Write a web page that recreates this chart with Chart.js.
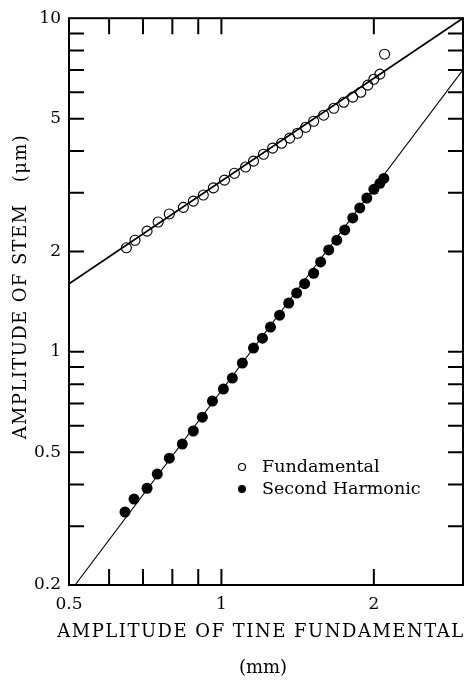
<!DOCTYPE html>
<html lang="en">
<head>
  <meta charset="UTF-8" />
  <title>Stem amplitude vs tine amplitude</title>
  <script src="https://cdn.jsdelivr.net/npm/chart.js"></script>
  <style>
    html, body { margin: 0; padding: 0; background: #fff; }
    canvas { display: block; }
  </style>
</head>
<body>
  <canvas id="stemChart" width="473" height="680"></canvas>

  <script>
    // tick labels and tick marks
    const xTickLabels = [0.5, 1, 2];
    const yTickLabels = [0.2, 0.5, 1, 2, 5, 10];
    const xTickMarks = [0.6, 0.7, 0.8, 0.9, 1, 2];
    const yTickMarks = [0.3, 0.4, 0.5, 0.6, 0.7, 0.8, 0.9, 1, 2, 3, 4, 5, 6, 7, 8, 9];

    // open circles (mm, um)
    const fundamentalX = [0.649, 0.675, 0.713, 0.750, 0.789, 0.841, 0.880, 0.921, 0.964, 1.014,
      1.061, 1.116, 1.157, 1.211, 1.262, 1.315, 1.364, 1.414, 1.467, 1.521,
      1.592, 1.667, 1.744, 1.817, 1.885, 1.946, 2.000, 2.056, 2.100];
    const fundamentalY = [2.05, 2.16, 2.30, 2.45, 2.59, 2.71, 2.83, 2.95, 3.10, 3.27,
      3.43, 3.58, 3.73, 3.91, 4.08, 4.22, 4.37, 4.52, 4.71, 4.91,
      5.12, 5.37, 5.60, 5.80, 6.00, 6.30, 6.56, 6.80, 7.80];

    // filled circles
    const harmonicX = [0.645, 0.672, 0.713, 0.747, 0.789, 0.837, 0.880, 0.917, 0.960, 1.009,
      1.051, 1.100, 1.157, 1.205, 1.250, 1.303, 1.358, 1.408, 1.460, 1.521,
      1.570, 1.629, 1.690, 1.752, 1.817, 1.876, 1.937, 2.000, 2.056, 2.093];
    const harmonicY = [0.331, 0.362, 0.390, 0.430, 0.480, 0.529, 0.579, 0.637, 0.712, 0.773,
      0.834, 0.925, 1.026, 1.099, 1.186, 1.288, 1.40, 1.50, 1.60, 1.72,
      1.86, 2.02, 2.16, 2.32, 2.52, 2.70, 2.89, 3.07, 3.20, 3.31];

    // fitted lines
    const fundamentalFitX = [0.5, 3];
    const fundamentalFitY = [1.6, 10];
    const harmonicFitX = [0.514, 3];
    const harmonicFitY = [0.2, 7.0];

    const legendLabels = ["Fundamental", "Second Harmonic"];
    const xTitle = ["AMPLITUDE OF TINE FUNDAMENTAL", "(mm)"];
    const yTitle = "AMPLITUDE OF STEM   (\u03bcm)";

    const SERIF = "'DejaVu Serif', 'Liberation Serif', serif";
    const toPoints = (xs, ys) => xs.map((x, i) => ({ x, y: ys[i] }));

    // frame, inward ticks, axis titles and legend
    const framePlugin = {
      id: "frame",
      afterDraw(chart) {
        const { ctx, chartArea: a, scales } = chart;
        ctx.save();
        ctx.strokeStyle = "#000";
        ctx.lineWidth = 2;
        ctx.strokeRect(a.left, a.top, a.right - a.left, a.bottom - a.top);

        ctx.beginPath();
        xTickMarks.forEach(v => {
          const px = scales.x.getPixelForValue(v);
          ctx.moveTo(px, a.bottom); ctx.lineTo(px, a.bottom - 16);
          ctx.moveTo(px, a.top); ctx.lineTo(px, a.top + 16);
        });
        yTickMarks.forEach(v => {
          const py = scales.y.getPixelForValue(v);
          ctx.moveTo(a.left, py); ctx.lineTo(a.left + 15, py);
          ctx.moveTo(a.right, py); ctx.lineTo(a.right - 15, py);
        });
        ctx.stroke();

        // axis titles
        ctx.fillStyle = "#000";
        ctx.font = "18px " + SERIF;
        ctx.letterSpacing = "1.5px";
        ctx.textAlign = "center";
        ctx.textBaseline = "middle";
        const cx = (a.left + a.right) / 2 - 5;
        ctx.fillText(xTitle[0], cx, a.bottom + 47);
        ctx.letterSpacing = "0px";
        ctx.fillText(xTitle[1], cx + 2, a.bottom + 83);

        ctx.save();
        ctx.translate(21, (a.top + a.bottom) / 2 - 15);
        ctx.rotate(-Math.PI / 2);
        ctx.letterSpacing = "1.4px";
        ctx.fillText(yTitle, 0, 0);
        ctx.restore();

        // legend
        ctx.letterSpacing = "0px";
        ctx.font = "17.5px " + SERIF;
        ctx.textAlign = "left";
        const lx = a.left + 173;
        const ly = [a.bottom - 118, a.bottom - 96];
        ctx.lineWidth = 1.2;
        ctx.beginPath();
        ctx.arc(lx, ly[0], 3.5, 0, Math.PI * 2);
        ctx.stroke();
        ctx.beginPath();
        ctx.arc(lx, ly[1], 4, 0, Math.PI * 2);
        ctx.fill();
        ctx.fillText(legendLabels[0], lx + 20, ly[0]);
        ctx.fillText(legendLabels[1], lx + 20, ly[1]);
        ctx.restore();
      }
    };

    new Chart(document.getElementById("stemChart"), {
      type: "scatter",
      data: {
        datasets: [
          {
            label: "Fundamental fit",
            data: toPoints(fundamentalFitX, fundamentalFitY),
            showLine: true,
            borderColor: "#000",
            borderWidth: 1.8,
            pointRadius: 0
          },
          {
            label: "Second Harmonic fit",
            data: toPoints(harmonicFitX, harmonicFitY),
            showLine: true,
            borderColor: "#000",
            borderWidth: 1.1,
            pointRadius: 0
          },
          {
            label: legendLabels[0],
            data: toPoints(fundamentalX, fundamentalY),
            pointStyle: "circle",
            pointRadius: 5,
            pointBorderWidth: 1.1,
            borderColor: "#000",
            backgroundColor: "rgba(0,0,0,0)"
          },
          {
            label: legendLabels[1],
            data: toPoints(harmonicX, harmonicY),
            pointStyle: "circle",
            pointRadius: 5.5,
            pointBorderWidth: 0,
            borderColor: "#000",
            backgroundColor: "#000"
          }
        ]
      },
      options: {
        responsive: false,
        animation: false,
        layout: { padding: { top: 18, right: 10, left: 0, bottom: 0 } },
        plugins: {
          legend: { display: false },
          tooltip: { enabled: false }
        },
        scales: {
          x: {
            type: "logarithmic",
            min: 0.5,
            max: 3,
            grid: { display: false, drawTicks: false },
            border: { display: false },
            afterBuildTicks: s => { s.ticks = xTickLabels.map(v => ({ value: v })); },
            afterFit: s => { s.height = 95; },
            ticks: {
              color: "#000",
              font: { family: SERIF, size: 17 },
              padding: 9,
              autoSkip: false,
              maxRotation: 0,
              callback: v => String(v)
            }
          },
          y: {
            type: "logarithmic",
            min: 0.2,
            max: 10,
            grid: { display: false, drawTicks: false },
            border: { display: false },
            afterBuildTicks: s => { s.ticks = yTickLabels.map(v => ({ value: v })); },
            afterFit: s => { s.width = 69; },
            ticks: {
              color: "#000",
              font: { family: SERIF, size: 17 },
              padding: 8,
              autoSkip: false,
              callback: v => String(v)
            }
          }
        }
      },
      plugins: [framePlugin]
    });
  </script>
</body>
</html>
